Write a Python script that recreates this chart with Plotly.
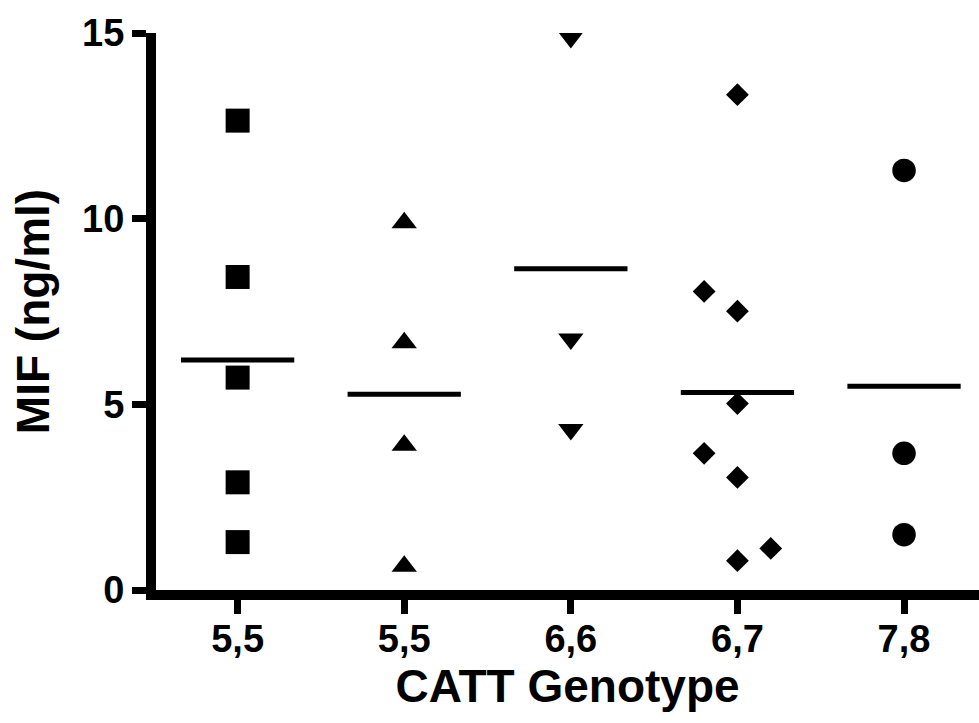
import plotly.graph_objects as go

# ---- data ----
tick_labels = ["5,5", "5,5", "6,6", "6,7", "7,8"]
g1_vals = [12.64, 8.43, 5.72, 2.90, 1.29]
g2_vals = [9.89, 6.66, 3.90, 0.64]
g3_vals = [14.88, 6.76, 4.32]
g4_vals = [13.34, 8.04, 7.51, 5.02, 3.68, 3.03, 0.79, 1.12]
g4_jitter = [0, -0.2, 0, 0, -0.2, 0, 0, 0.2]
g5_vals = [11.30, 3.68, 1.49]

groups = [
    (0, g1_vals, [0] * len(g1_vals), "square", 24),
    (1, g2_vals, [0] * len(g2_vals), "triangle-up", 22),
    (2, g3_vals, [0] * len(g3_vals), "triangle-down", 22),
    (3, g4_vals, g4_jitter, "diamond", 17.5),
    (4, g5_vals, [0] * len(g5_vals), "circle", 23.5),
]

FONT = "Liberation Sans, Arial, sans-serif"
fig = go.Figure()
half = 0.34
for pos, vals, jit, sym, size in groups:
    fig.add_trace(go.Scatter(
        x=[pos + j for j in jit], y=vals, mode="markers",
        marker=dict(symbol=sym, size=size, color="black", line=dict(width=0)),
        showlegend=False, cliponaxis=True,
    ))
    m = sum(vals) / len(vals)
    fig.add_trace(go.Scatter(
        x=[pos - half, pos + half], y=[m, m], mode="lines",
        line=dict(color="black", width=5), showlegend=False,
    ))

fig.update_layout(
    width=979, height=723,
    margin=dict(l=156, r=0, t=33, b=133, autoexpand=False),
    plot_bgcolor="white", paper_bgcolor="white",
    font=dict(family=FONT, color="black"),
)
fig.update_xaxes(
    automargin=False,
    range=[-0.49, 4.45], tickmode="array", tickvals=list(range(len(tick_labels))),
    ticktext=tick_labels, showgrid=False, zeroline=False,
    showline=True, linecolor="black", linewidth=10,
    ticks="outside", ticklen=14, tickwidth=7, tickcolor="black",
    ticklabelstandoff=-8,
    tickfont=dict(family=FONT, size=38, color="black", weight="bold"),
    title=dict(text="CATT Genotype", font=dict(family=FONT, size=46, color="black", weight="bold"), standoff=14),
)
fig.update_yaxes(
    automargin=False,
    range=[0, 15], tickmode="array", tickvals=[0, 5, 10, 15],
    showgrid=False, zeroline=False,
    showline=True, linecolor="black", linewidth=10,
    ticks="outside", ticklen=14, tickwidth=7, tickcolor="black",
    tickfont=dict(family=FONT, size=38, color="black", weight="bold"),
    title=dict(text="MIF (ng/ml)", font=dict(family=FONT, size=46, color="black", weight="bold"), standoff=22),
)

fig.write_html("out.html", config={"displayModeBar": False},
               post_script="document.body.style.margin='0';document.body.style.overflow='hidden';")
